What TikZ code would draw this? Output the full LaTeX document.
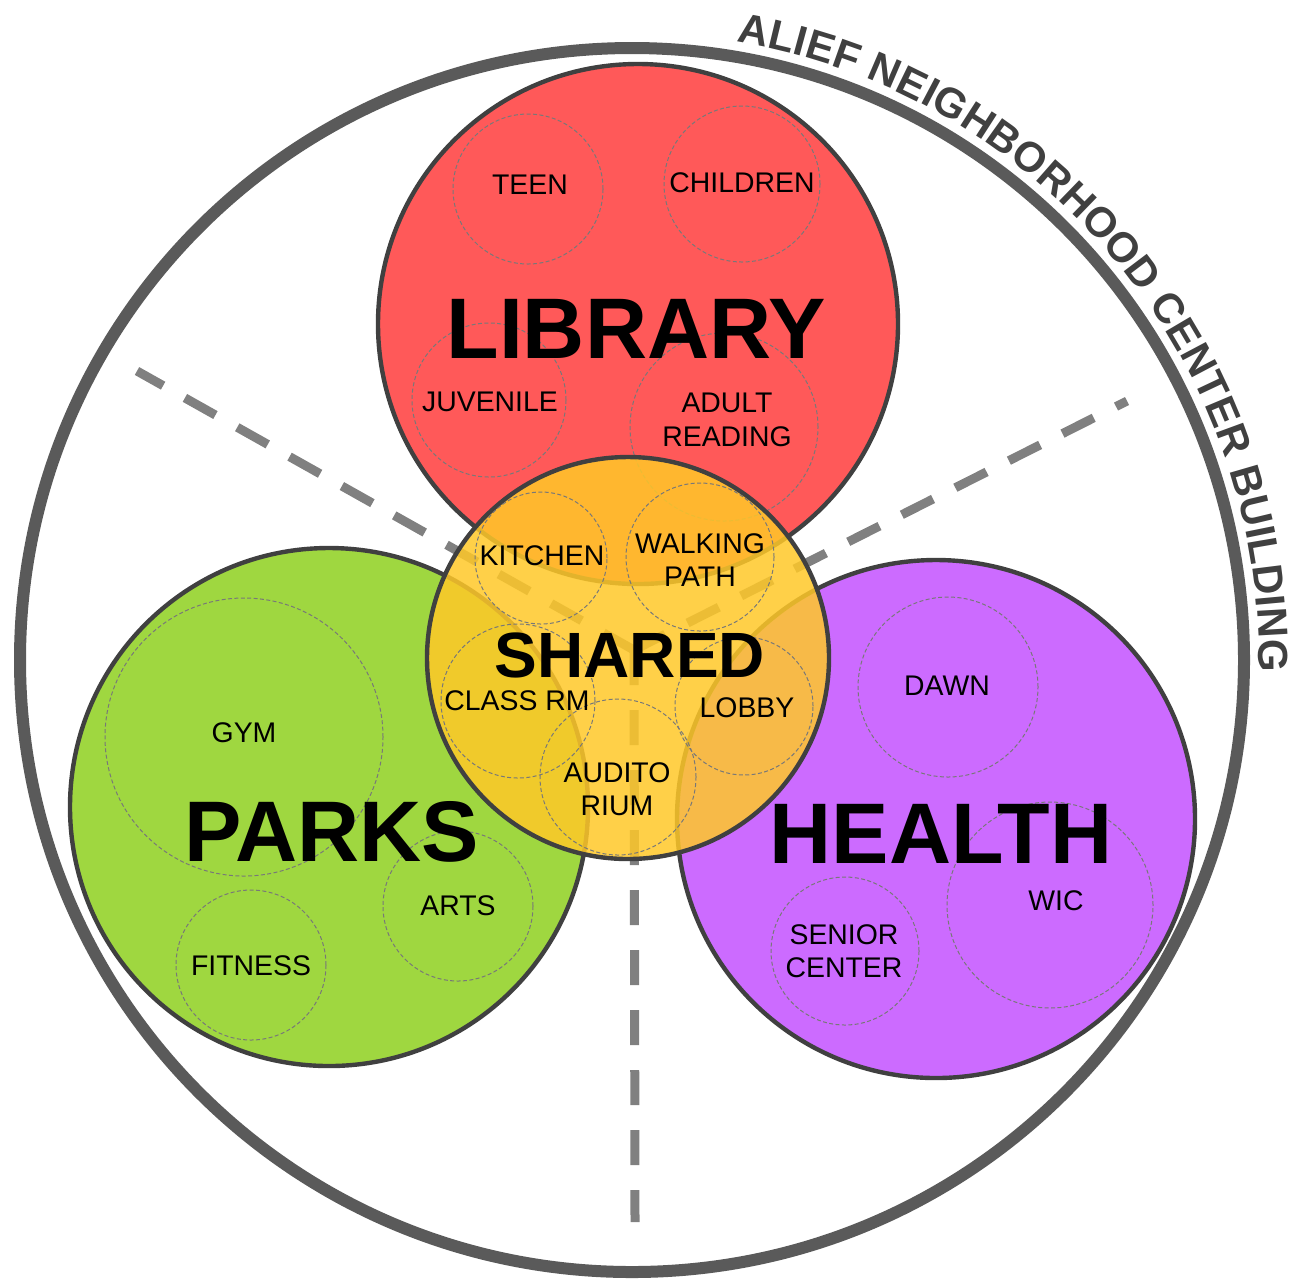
\documentclass[tikz,border=0pt]{standalone}
\usepackage{fontspec}
\setmainfont{Liberation Sans}
\usetikzlibrary{decorations.text}
\definecolor{libred}{RGB}{255,89,89}
\definecolor{parkgreen}{RGB}{159,215,64}
\definecolor{healthpurple}{RGB}{204,107,255}
\definecolor{sharedyellow}{RGB}{255,200,40}
\definecolor{edgegray}{RGB}{64,64,64}
\definecolor{outergray}{RGB}{90,90,90}
\definecolor{dashgray}{RGB}{128,128,128}
\definecolor{subgray}{RGB}{120,120,120}
\definecolor{titlegray}{RGB}{64,64,64}
\newcommand\titlefont{\fontsize{21pt}{25pt}\selectfont\bfseries\color{titlegray}}
\begin{document}
\begin{tikzpicture}[x=0.5pt,y=0.5pt,
  bigcircle/.style={circle, draw=edgegray, line width=2.2pt, inner sep=0pt, minimum size=#1},
  subcircle/.style={circle, draw=subgray, line width=0.5pt, dash pattern=on 2pt off 1.2pt, inner sep=0pt, minimum size=#1},
  zoneline/.style={draw=dashgray, line width=4.5pt, dash pattern=on 17.5pt off 12.5pt},
  biglabel/.style={font=\fontsize{43pt}{50pt}\selectfont\bfseries, inner sep=0pt},
  midlabel/.style={font=\fontsize{32pt}{38pt}\selectfont\bfseries, inner sep=0pt},
  sublabel/.style={font=\fontsize{14.2pt}{16.8pt}\selectfont, align=center, inner sep=0pt},
]
\useasboundingbox (0,0) rectangle (1293,-1282);

% outer building circle
\node[circle, draw=outergray, line width=6pt, inner sep=0pt, minimum size=612pt] (outer) at (632,-660) {};

% main program circles
\node[bigcircle=260pt, fill=libred] (lib) at (638,-324) {};
\node[bigcircle=259pt, fill=parkgreen] (parks) at (329,-807) {};
\node[bigcircle=259pt, fill=healthpurple] (health) at (936,-819) {};

% zone dividers
\coordinate (hub) at (634,-650);
\coordinate (ulend) at (137,-371);
\coordinate (urend) at (1127,-401);
\coordinate (dnend) at (635,-1222);
\draw[zoneline] (hub) -- (ulend);
\draw[zoneline] (hub) -- (urend);
\draw[zoneline] (hub) -- (dnend);

% library sub spaces
\node[subcircle=75pt] (teenc) at (528,-189) {};
\node[subcircle=78pt] (childc) at (742,-184) {};
\node[subcircle=77pt] (juvc) at (489,-400) {};
\node[subcircle=94pt] (adultc) at (724,-427) {};
% parks sub spaces
\node[subcircle=139pt] (gymc) at (244,-737) {};
\node[subcircle=75pt] (artsc) at (458,-906) {};
\node[subcircle=75pt] (fitc) at (251,-965) {};
% health sub spaces
\node[subcircle=90pt] (dawnc) at (948,-687) {};
\node[subcircle=103pt] (wicc) at (1050,-905) {};
\node[subcircle=74pt] (seniorc) at (845,-951) {};

% shared circle
\node[bigcircle=201pt, fill=sharedyellow, fill opacity=0.85] (shared) at (628,-658) {};
\node[subcircle=66pt] (kitchenc) at (541,-558) {};
\node[subcircle=74pt] (walkc) at (700,-557) {};
\node[subcircle=77pt] (classc) at (518,-701) {};
\node[subcircle=69pt] (lobbyc) at (744,-706) {};
\node[subcircle=78pt] (auditc) at (618,-777) {};

% big labels
\node[biglabel] (libt) at (636,-329) {LIBRARY};
\node[biglabel] (parkst) at (332,-832) {PARKS};
\node[biglabel] (healtht) at (941,-834) {HEALTH};
\node[midlabel] (sharedt) at (630,-655) {SHARED};

% sub labels
\node[sublabel] (teent) at (530,-185) {TEEN};
\node[sublabel] (childt) at (742,-183) {CHILDREN};
\node[sublabel] (juvt) at (490,-402) {JUVENILE};
\node[sublabel] (adultt) at (727,-420) {ADULT\\READING};
\node[sublabel] (gymt) at (244,-733) {GYM};
\node[sublabel] (artst) at (458,-906) {ARTS};
\node[sublabel] (fitt) at (251,-966) {FITNESS};
\node[sublabel] (dawnt) at (947,-686) {DAWN};
\node[sublabel] (wict) at (1056,-901) {WIC};
\node[sublabel] (seniort) at (844,-951) {SENIOR\\CENTER};
\node[sublabel] (kitchent) at (542,-556) {KITCHEN};
\node[sublabel] (walkt) at (700,-560) {WALKING\\PATH};
\node[sublabel] (classt) at (517,-701) {CLASS RM};
\node[sublabel] (lobbyt) at (747,-708) {LOBBY};
\node[sublabel] (auditt) at (617,-789) {AUDITO\\RIUM};

% title along the outer circle
\path[decorate, decoration={text along path, text={|\titlefont|ALIEF NEIGHBORHOOD CENTER BUILDING}, text align=fit to path}]
  ([shift={(80.4:313.5pt)}]outer.center) arc[start angle=80.4, end angle=-1, radius=313.5pt];
\end{tikzpicture}
\end{document}
